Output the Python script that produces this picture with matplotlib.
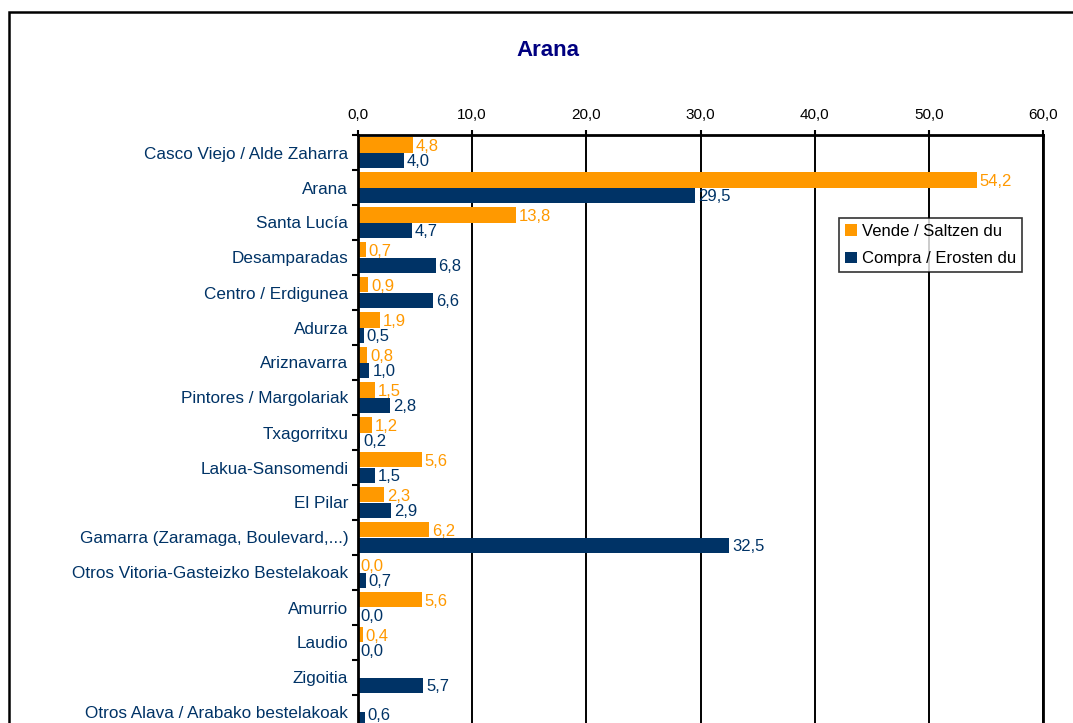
import matplotlib.pyplot as plt
import matplotlib.patches as mpatches
import numpy as np

plt.rcParams['font.family'] = ['Liberation Sans', 'DejaVu Sans']

# barrios / auzoak
categories = [
    "Casco Viejo / Alde Zaharra", "Arana", "Santa Lucía", "Desamparadas",
    "Centro / Erdigunea", "Adurza", "Ariznavarra", "Pintores / Margolariak",
    "Txagorritxu", "Lakua-Sansomendi", "El Pilar", "Gamarra (Zaramaga, Boulevard,...)",
    "Otros Vitoria-Gasteizko Bestelakoak", "Amurrio", "Laudio", "Zigoitia",
    "Otros Alava / Arabako bestelakoak",
]
vende = [4.8, 54.2, 13.8, 0.7, 0.9, 1.9, 0.8, 1.5, 1.2, 5.6, 2.3, 6.2, 0.0, 5.6, 0.4, None, None]
compra = [4.0, 29.5, 4.7, 6.8, 6.6, 0.5, 1.0, 2.8, 0.2, 1.5, 2.9, 32.5, 0.7, 0.0, 0.0, 5.7, 0.6]
xticks = [0, 10, 20, 30, 40, 50, 60]

ORANGE = '#FF9900'
NAVY = '#003366'

fig = plt.figure(figsize=(10.73, 7.23), dpi=100)
# marco del gráfico (sale por abajo y por la derecha)
fig.patches.append(mpatches.Rectangle((9 / 1073, -0.1), 1.2, 1.1 - 12 / 723,
                                      transform=fig.transFigure, fill=False,
                                      edgecolor='black', lw=1.8, clip_on=False))

ax_top, ax_bot = 135, 730
ax = fig.add_axes([358 / 1073, 1 - ax_bot / 723, 685 / 1073, (ax_bot - ax_top) / 723])

y = np.arange(len(categories))
h = 0.44
v = np.array([np.nan if a is None else a for a in vende])
c = np.array(compra, dtype=float)
ax.barh(y - h / 2, v, height=h, color=ORANGE, label='Vende / Saltzen du')
ax.barh(y + h / 2, c, height=h, color=NAVY, label='Compra / Erosten du')

ax.set_xlim(0, 60)
ax.set_ylim(len(categories) - 0.5, -0.5)

# las etiquetas no salen del área del gráfico (como en Excel)
y_max = ax.transData.inverted().transform((0, 8))[1]

for i in range(len(categories)):
    if not np.isnan(v[i]):
        ax.text(v[i] + 0.25, min(y[i] - h / 2 + 0.04, y_max), f"{v[i]:.1f}".replace('.', ','),
                color=ORANGE, fontsize=12, va='center', ha='left')
    if not np.isnan(c[i]):
        ax.text(c[i] + 0.25, min(y[i] + h / 2 + 0.04, y_max), f"{c[i]:.1f}".replace('.', ','),
                color=NAVY, fontsize=12, va='center', ha='left')

ax.set_xticks(xticks)
ax.set_xticklabels([f"{t:.1f}".replace('.', ',') for t in xticks], fontsize=11)
ax.xaxis.tick_top()
ax.tick_params(axis='x', length=3.5, width=1.5, pad=6)
ax.grid(axis='x', color='black', lw=1.4)
ax.set_axisbelow(True)

ax.set_yticks(y)
ax.set_yticklabels(categories, color=NAVY, fontsize=12.3)
ax.set_yticks(np.arange(len(categories) + 1) - 0.5, minor=True)
ax.tick_params(axis='y', which='major', length=0, pad=7)
ax.tick_params(axis='y', which='minor', length=4, width=1.5, direction='out')

for s in ['top', 'left', 'right']:
    ax.spines[s].set_linewidth(2)
ax.spines['bottom'].set_visible(False)

fig.text(548 / 1073, 1 - 51 / 723, 'Arana', ha='center', va='center',
         fontsize=16, fontweight='bold', color='#000080')

leg = ax.legend(loc='upper left',
                bbox_to_anchor=((839 - 358) / 685, (ax_bot - 218) / (ax_bot - ax_top)),
                fontsize=12, frameon=True, fancybox=False, edgecolor='black',
                handlelength=0.7, handleheight=0.7, handletextpad=0.3,
                borderpad=0.35, labelspacing=0.75, borderaxespad=0)
leg.get_frame().set_linewidth(1.2)

fig.savefig('out.png', dpi=100)
